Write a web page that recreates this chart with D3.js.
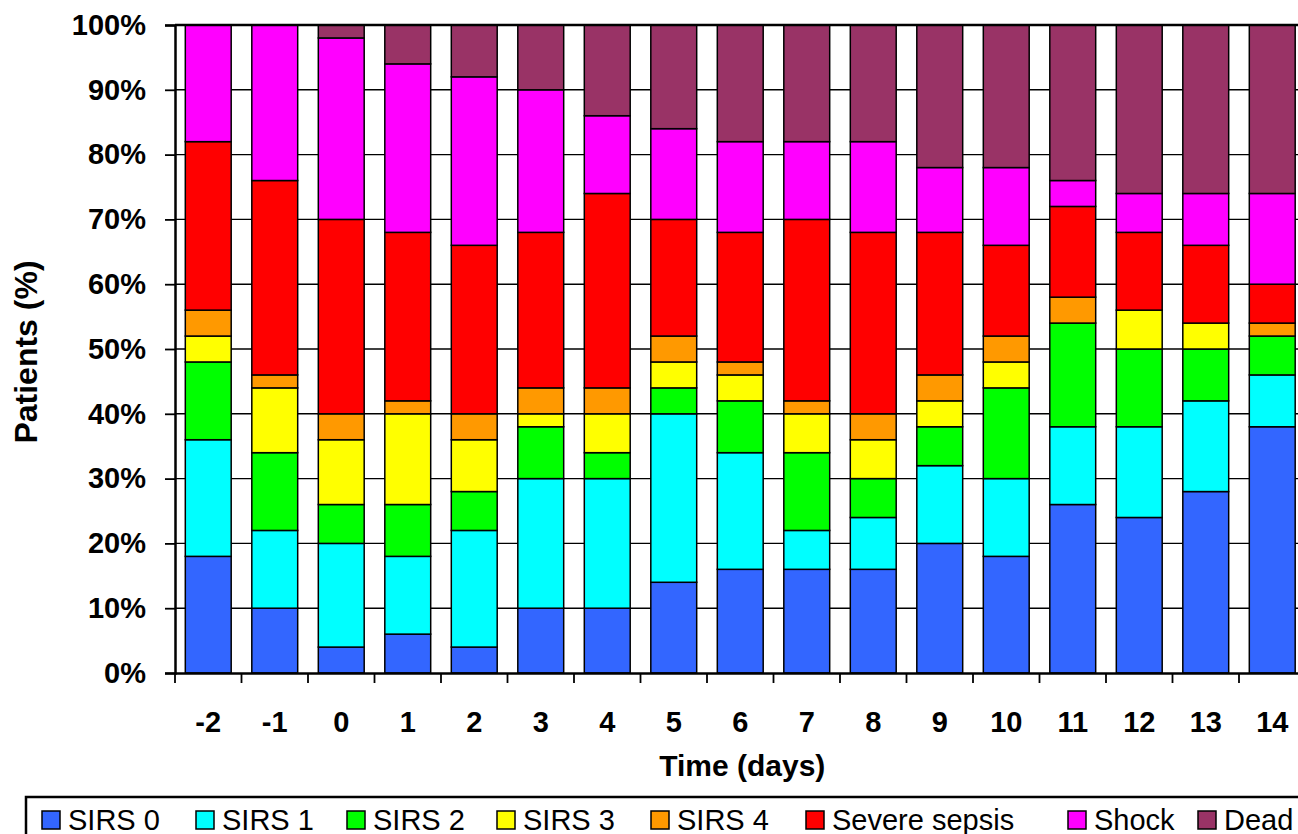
<!DOCTYPE html>
<html>
<head>
<meta charset="utf-8">
<script src="https://cdn.jsdelivr.net/npm/d3@7"></script>
<style>
  html, body { margin: 0; padding: 0; background: #fff; }
  svg { display: block; }
  text { font-family: Arial, "Liberation Sans", Helvetica, sans-serif; }
</style>
</head>
<body>
<svg id="chart" width="1298" height="834"></svg>
<script>
// ---- data ----
const days = ["-2","-1","0","1","2","3","4","5","6","7","8","9","10","11","12","13","14"];
const seriesNames = ["SIRS 0","SIRS 1","SIRS 2","SIRS 3","SIRS 4","Severe sepsis","Shock","Dead"];
const seriesColors = ["#3366FF","#00FFFF","#00FF00","#FFFF00","#FF9900","#FF0000","#FF00FF","#993366"];
const sirs0  = [18,10, 4, 6, 4,10,10,14,16,16,16,20,18,26,24,28,38];
const sirs1  = [18,12,16,12,18,20,20,26,18, 6, 8,12,12,12,14,14, 8];
const sirs2  = [12,12, 6, 8, 6, 8, 4, 4, 8,12, 6, 6,14,16,12, 8, 6];
const sirs3  = [ 4,10,10,14, 8, 2, 6, 4, 4, 6, 6, 4, 4, 0, 6, 4, 0];
const sirs4  = [ 4, 2, 4, 2, 4, 4, 4, 4, 2, 2, 4, 4, 4, 4, 0, 0, 2];
const severe = [26,30,30,26,26,24,30,18,20,28,28,22,14,14,12,12, 6];
const shock  = [18,24,28,26,26,22,12,14,14,12,14,10,12, 4, 6, 8,14];
const dead   = [ 0, 0, 2, 6, 8,10,14,16,18,18,18,22,22,24,26,26,26];
const yTicks = [0,10,20,30,40,50,60,70,80,90,100];
const xTitle = "Time (days)";
const yTitle = "Patients (%)";

const seriesValues = [sirs0, sirs1, sirs2, sirs3, sirs4, severe, shock, dead];
const rows = days.map((d, i) => {
  const r = { day: d };
  seriesNames.forEach((s, k) => { r[s] = seriesValues[k][i]; });
  return r;
});

// ---- layout ----
const plot = { left: 175, top: 25, bottom: 673, right: 1305.5 };
const svg = d3.select("#chart");

const x = d3.scaleBand().domain(days).range([plot.left, plot.right])
  .paddingInner(0.31).paddingOuter(0.155);
const y = d3.scaleLinear().domain([0, 100]).range([plot.bottom, plot.top]);
const color = d3.scaleOrdinal().domain(seriesNames).range(seriesColors);

// gridlines
svg.append("g").selectAll("line").data(yTicks.filter(t => t > 0 && t < 100)).join("line")
  .attr("x1", plot.left).attr("x2", plot.right)
  .attr("y1", d => y(d)).attr("y2", d => y(d))
  .attr("stroke", "#000").attr("stroke-width", 1.4);

// bars
const stack = d3.stack().keys(seriesNames)(rows);
svg.append("g").selectAll("g").data(stack).join("g")
  .attr("fill", d => color(d.key))
  .selectAll("rect").data(d => d.filter(p => p[1] - p[0] > 0)).join("rect")
  .attr("x", d => x(d.data.day))
  .attr("width", x.bandwidth())
  .attr("y", d => y(d[1]))
  .attr("height", d => y(d[0]) - y(d[1]))
  .attr("stroke", "#000").attr("stroke-width", 1.5);

// top border
svg.append("line").attr("x1", plot.left).attr("x2", plot.right)
  .attr("y1", y(100)).attr("y2", y(100)).attr("stroke", "#000").attr("stroke-width", 2.5);

// y axis
const yAxis = d3.axisLeft(y).tickValues(yTicks).tickFormat(d => d + "%").tickSize(10).tickPadding(19);
const gy = svg.append("g").attr("transform", `translate(${plot.left},0)`).call(yAxis);
gy.select(".domain").attr("stroke", "#000").attr("stroke-width", 2.5);
gy.selectAll(".tick line").attr("stroke", "#000").attr("stroke-width", 1.8);
gy.selectAll(".tick text").attr("fill", "#000")
  .style("font-size", "29px").style("font-weight", "bold")
  .style("font-family", "Arial, 'Liberation Sans', sans-serif");

// x axis
const xAxis = d3.axisBottom(x).tickSize(0).tickPadding(38);
const gx = svg.append("g").attr("transform", `translate(0,${plot.bottom})`).call(xAxis);
gx.select(".domain").attr("stroke", "#000").attr("stroke-width", 2.5);
gx.selectAll(".tick text").attr("fill", "#000")
  .style("font-size", "29px").style("font-weight", "bold")
  .style("font-family", "Arial, 'Liberation Sans', sans-serif");
// separating tick marks between categories
const bounds = d3.range(days.length + 1).map(i => plot.left + i * x.step());
gx.append("g").selectAll("line").data(bounds).join("line")
  .attr("x1", d => d).attr("x2", d => d).attr("y1", 0).attr("y2", 10)
  .attr("stroke", "#000").attr("stroke-width", 1.8);

// titles
svg.append("text").attr("x", (plot.left + plot.right) / 2 + 2).attr("y", 776)
  .attr("text-anchor", "middle").style("font-size", "30px").style("font-weight", "bold")
  .text(xTitle);
svg.append("text").attr("transform", `translate(37,${(plot.top + plot.bottom) / 2 + 3}) rotate(-90)`)
  .attr("text-anchor", "middle").style("font-size", "32px").style("font-weight", "bold")
  .text(yTitle);

// legend
const legendX = [42, 196, 347, 497, 651, 806, 1068, 1198];
svg.append("rect").attr("x", 26).attr("y", 797).attr("width", 1300).attr("height", 60)
  .attr("fill", "#fff").attr("stroke", "#000").attr("stroke-width", 2.5);
const li = svg.append("g").selectAll("g").data(seriesNames).join("g")
  .attr("transform", (d, i) => `translate(${legendX[i]},0)`);
li.append("rect").attr("x", 0).attr("y", 811).attr("width", 18).attr("height", 18)
  .attr("fill", d => color(d)).attr("stroke", "#000").attr("stroke-width", 1.5);
li.append("text").attr("x", 26).attr("y", 830).style("font-size", "29px").text(d => d);
</script>
</body>
</html>
